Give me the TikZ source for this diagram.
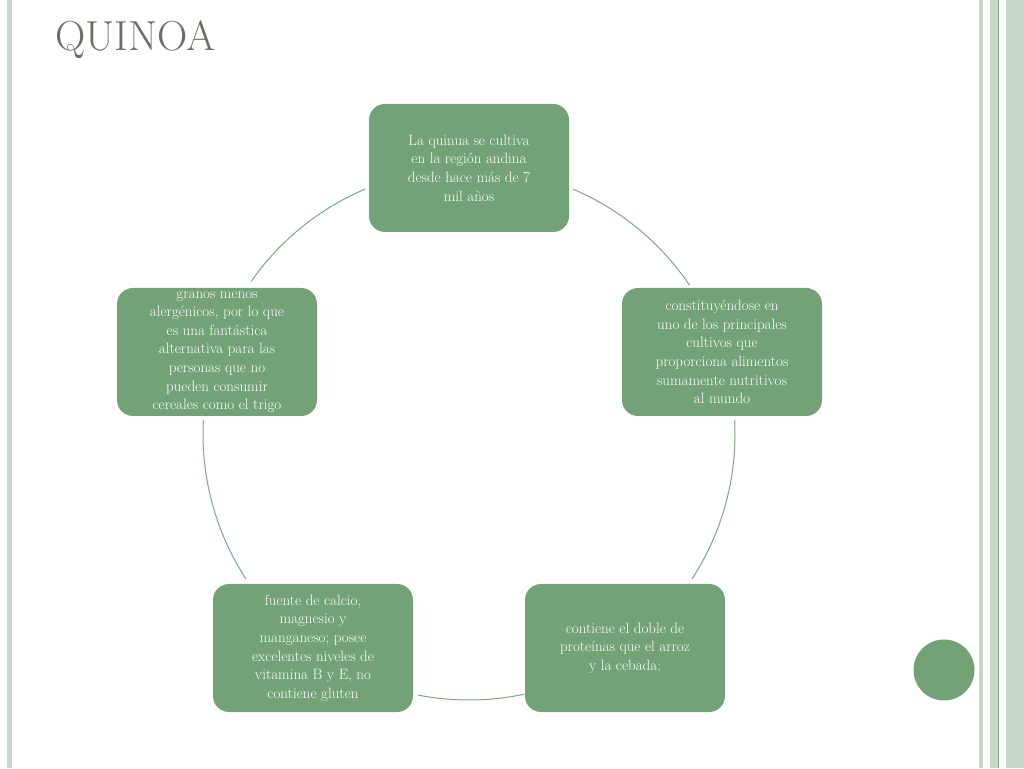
\documentclass[tikz,border=0pt]{standalone}
\usetikzlibrary{positioning,calc}
\definecolor{leaf}{HTML}{72A276}
\definecolor{stem}{HTML}{7FA883}
\definecolor{pale}{HTML}{C6D7C9}
\definecolor{title}{HTML}{6B6E62}
\begin{document}
\begin{tikzpicture}[x=1pt,y=1pt]
% -------------------------------------------------
% Styles
\tikzset{
  base/.style={fill=leaf, rounded corners=16pt, align=center, text=white},
  stage/.style={base, minimum width=200pt, minimum height=128pt, inner sep=2pt,
    font={\fontsize{15}{18.6}\selectfont}},
  link/.style={draw=stem, line width=1pt},
  stripe/.style={fill=pale, draw=none}
}
\useasboundingbox (0,0) rectangle (1024,768);
% frame stripes
\fill[stripe] (7,0) rectangle (12,768);
\fill[stripe] (979,0) rectangle (983,768);
\fill[stripe] (990,0) rectangle (1024,768);
\fill[white] (998.5,0) rectangle (1006,768);
\draw[stem, line width=0.8pt] (998.5,0) -- (998.5,768);
% title
\node[anchor=base west, text=title, font={\fontsize{42}{42}\selectfont}, inner sep=0] (head) at (55,717) {QUINOA};
% -------------------------------------------------
% Stage nodes
\coordinate (ctr) at (469,334);
\node [stage] (s1) at (469,600) {La quinua se cultiva\\en la región andina\\desde hace más de 7\\mil años};
\node [stage] (s2) at (722,416) {constituyéndose en\\uno de los principales\\cultivos que\\proporciona alimentos\\sumamente nutritivos\\al mundo};
\node [stage] (s3) at (625,120) {contiene el doble de\\proteínas que el arroz\\y la cebada;};
\node [stage] (s4) at (313,120) {fuente de calcio,\\magnesio y\\manganeso; posee\\excelentes niveles de\\vitamina B y E, no\\contiene gluten};
\node [stage] (s5) at (217,416) {granos menos\\alergénicos, por lo que\\es una fantástica\\alternativa para las\\personas que no\\pueden consumir\\cereales como el trigo};
% corner dot
\node [circle, fill=leaf, minimum size=61pt, inner sep=0] (dot) at (944,98) {};
% -------------------------------------------------
% Arcs around the cycle: start angle / end angle
\foreach \a/\b in {67/34, 3/-33, -78/-101, 213/177, 145/113}
  \draw[link] ($(ctr)+(\a:266)$) arc[start angle=\a, end angle=\b, radius=266];
\end{tikzpicture}
\end{document}
